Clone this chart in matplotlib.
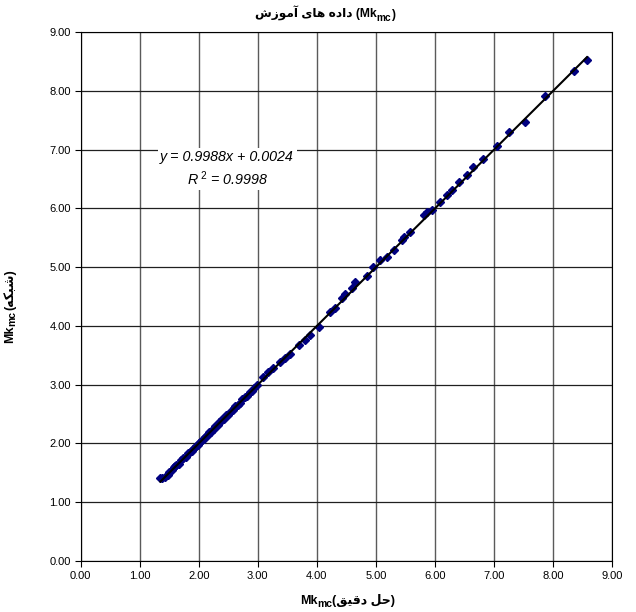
import matplotlib
matplotlib.use("Agg")
import matplotlib.pyplot as plt
import numpy as np

# values
x_exact = [1.35, 1.38, 1.42, 1.47, 1.50, 1.55, 1.58, 1.60, 1.62, 1.66, 1.70, 1.74,
           1.78, 1.82, 1.85, 1.88, 1.90, 1.92, 1.95, 1.98, 2.00, 2.02, 2.05, 2.08,
           2.10, 2.12, 2.15, 2.18, 2.20, 2.21, 2.25, 2.28, 2.30, 2.32, 2.35, 2.38,
           2.40, 2.42, 2.46, 2.50, 2.54, 2.58, 2.60, 2.62, 2.66, 2.70, 2.74, 2.78,
           2.82, 2.86, 2.90, 2.94, 2.98,
           3.09, 3.18, 3.26, 3.38, 3.46, 3.55, 3.69, 3.80, 3.89, 4.03, 4.23, 4.31,
           4.42, 4.48, 4.59, 4.65, 4.85, 4.96, 5.07, 5.19, 5.30, 5.44, 5.47, 5.58,
           5.81, 5.86, 5.95, 6.09, 6.21, 6.29, 6.41, 6.55, 6.64, 6.82, 7.05, 7.25,
           7.53, 7.87, 8.36, 8.58]
y_net = [1.41, 1.41, 1.43, 1.46, 1.52, 1.54, 1.60, 1.61, 1.63, 1.65, 1.71, 1.75,
         1.77, 1.84, 1.85, 1.87, 1.91, 1.93, 1.96, 1.97, 2.00, 2.03, 2.06, 2.07,
         2.11, 2.13, 2.14, 2.20, 2.19, 2.22, 2.24, 2.30, 2.29, 2.31, 2.36, 2.39,
         2.42, 2.41, 2.48, 2.49, 2.55, 2.57, 2.61, 2.64, 2.66, 2.68, 2.75, 2.79,
         2.81, 2.88, 2.89, 2.95, 2.99,
         3.13, 3.22, 3.28, 3.39, 3.45, 3.53, 3.67, 3.76, 3.84, 3.98, 4.24, 4.30,
         4.47, 4.55, 4.64, 4.75, 4.84, 5.00, 5.12, 5.18, 5.29, 5.46, 5.52, 5.60,
         5.88, 5.94, 5.97, 6.11, 6.22, 6.31, 6.45, 6.56, 6.71, 6.84, 7.06, 7.30,
         7.47, 7.91, 8.33, 8.52]
slope = 0.9988
intercept = 0.0024
r2 = 0.9998

title_fa = "داده های آموزش"
xlabel_fa = "حل دقیق"
ylabel_fa = "شبکه"

# contextual forms: isolated, final, initial, medial
FORMS = {
    "ا": ("\uFE8D", "\uFE8E", None, None),
    "آ": ("\uFE81", "\uFE82", None, None),
    "د": ("\uFEA9", "\uFEAA", None, None),
    "ز": ("\uFEAF", "\uFEB0", None, None),
    "و": ("\uFEED", "\uFEEE", None, None),
    "ه": ("\uFEE9", "\uFEEA", "\uFEEB", "\uFEEC"),
    "ی": ("\uFBFC", "\uFBFD", "\uFBFE", "\uFBFF"),
    "م": ("\uFEE1", "\uFEE2", "\uFEE3", "\uFEE4"),
    "ش": ("\uFEB5", "\uFEB6", "\uFEB7", "\uFEB8"),
    "ح": ("\uFEA1", "\uFEA2", "\uFEA3", "\uFEA4"),
    "ل": ("\uFEDD", "\uFEDE", "\uFEDF", "\uFEE0"),
    "ق": ("\uFED5", "\uFED6", "\uFED7", "\uFED8"),
    "ب": ("\uFE8F", "\uFE90", "\uFE91", "\uFE92"),
    "ک": ("\uFB8E", "\uFB8F", "\uFB90", "\uFB91"),
}


def shape(s):
    out = []
    for i, c in enumerate(s):
        if c not in FORMS:
            out.append(c)
            continue
        iso, fin, ini, med = FORMS[c]
        p = i > 0 and s[i - 1] in FORMS and FORMS[s[i - 1]][2] is not None
        n = ini is not None and i + 1 < len(s) and s[i + 1] in FORMS
        if p and n:
            out.append(med)
        elif p:
            out.append(fin)
        elif n:
            out.append(ini)
        else:
            out.append(iso)
    return "".join(reversed(out))


FAM = ["Liberation Sans", "DejaVu Sans"]
plt.rcParams["font.family"] = FAM
plt.rcParams["mathtext.fontset"] = "custom"
plt.rcParams["mathtext.rm"] = "Liberation Sans"
plt.rcParams["mathtext.it"] = "Liberation Sans:italic"
plt.rcParams["mathtext.bf"] = "Liberation Sans:bold"

fig = plt.figure(figsize=(6.36, 6.12), dpi=100)
ax = fig.add_axes([0.127, 0.0833, 0.835, 0.8645])

ax.plot(x_exact, y_net, linestyle="none", marker="D", markersize=3.6,
        color="#000080", zorder=3)
xs = np.array([min(x_exact), max(x_exact)])
ax.plot(xs, slope * xs + intercept, color="black", linewidth=1.5, zorder=4)

ax.set_xlim(0, 9)
ax.set_ylim(0, 9)
ax.set_xticks(np.arange(0, 10))
ax.set_yticks(np.arange(0, 10))
ax.set_xticklabels(["%.2f" % v for v in range(10)])
ax.set_yticklabels(["%.2f" % v for v in range(10)])
ax.tick_params(labelsize=8, direction="out", length=4, width=0.8, pad=3)
ax.grid(axis="x", color="#5a5a5a", linewidth=1)
ax.grid(axis="y", color="#202020", linewidth=0.9)
ax.set_axisbelow(True)
for sp in ax.spines.values():
    sp.set_color("black")
    sp.set_linewidth(0.8)

ax.text(2.48, 6.67,
        "y = %.4fx + %.4f\nR$^{\\ 2}$ = %.4f" % (slope, intercept, r2),
        fontsize=10.3, style="italic", ha="center", va="center",
        linespacing=1.3, zorder=5,
        bbox=dict(facecolor="white", edgecolor="none", pad=2))


def chain(pieces, x, y, rot=0):
    # pieces: (text, fontsize, drop in points); laid out one after the other
    prev = None
    for txt, size, drop in pieces:
        if prev is None:
            t = fig.text(x, y, txt, fontsize=size, fontweight="bold",
                         ha="left", va="baseline", rotation=rot, family=FAM)
        elif rot == 0:
            t = ax.annotate(txt, xy=(1, 0), xycoords=prev,
                            xytext=(0, -drop), textcoords="offset points",
                            fontsize=size, fontweight="bold", ha="left",
                            va="bottom", annotation_clip=False, family=FAM)
        else:
            t = ax.annotate(txt, xy=(1, 1), xycoords=prev,
                            xytext=(drop, 0), textcoords="offset points",
                            fontsize=size, fontweight="bold", ha="right",
                            va="bottom", rotation=rot,
                            annotation_clip=False, family=FAM)
        prev = t
    return prev


# title: persian run then (Mk_mc)
chain([(shape(title_fa) + " (Mk", 8.7, 0), ("mc", 7.3, 1.2), (")", 8.7, -1.2)],
      255 / 636, 1 - 18 / 612)

# x label: Mk_mc(persian)
chain([("Mk", 9, 0), ("mc", 7.5, 1.2),
       ("(" + shape(xlabel_fa) + ")", 9, -1.2)],
      300 / 636, 1 - 604 / 612)

# y label, rotated
chain([("Mk", 9, 0), ("mc", 7.5, 1.2),
       ("(" + shape(ylabel_fa) + ")", 9, -1.2)],
      4 / 636, 1 - 340 / 612, rot=90)

fig.savefig("out.png", dpi=100)
